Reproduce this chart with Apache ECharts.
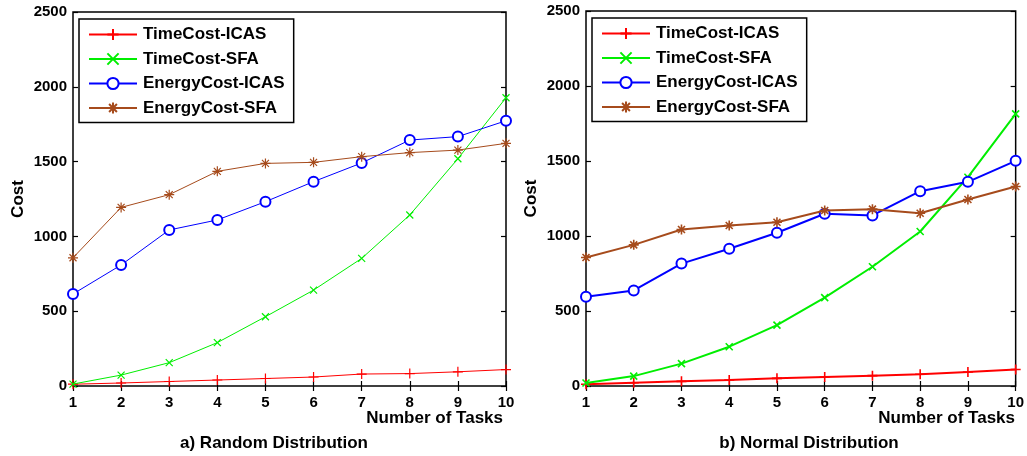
<!DOCTYPE html>
<html>
<head>
<meta charset="utf-8">
<script src="https://cdn.jsdelivr.net/npm/echarts@6/dist/echarts.min.js"></script>
<style>
  html, body { margin: 0; padding: 0; background: #fff; }
  #chart { width: 1027px; height: 456px; }
</style>
</head>
<body>
<div id="chart"></div>
<script>
const tasks = [1, 2, 3, 4, 5, 6, 7, 8, 9, 10];
const seriesNames = ['TimeCost-ICAS', 'TimeCost-SFA', 'EnergyCost-ICAS', 'EnergyCost-SFA'];

// a) Random Distribution
const randTimeICAS = [12, 20, 30, 40, 50, 60, 80, 83, 95, 110];
const randTimeSFA = [13, 73, 156, 290, 463, 641, 853, 1143, 1519, 1927];
const randEnergyICAS = [615, 809, 1043, 1110, 1232, 1366, 1491, 1644, 1667, 1773];
const randEnergySFA = [857, 1194, 1279, 1435, 1488, 1495, 1533, 1560, 1577, 1622];

// b) Normal Distribution
const normTimeICAS = [12, 22, 31, 40, 51, 60, 69, 78, 93, 110];
const normTimeSFA = [20, 66, 149, 262, 406, 589, 795, 1030, 1392, 1814];
const normEnergyICAS = [595, 637, 816, 915, 1022, 1148, 1137, 1299, 1361, 1501];
const normEnergySFA = [857, 941, 1043, 1070, 1092, 1170, 1179, 1152, 1243, 1330];

const yTicks = [0, 500, 1000, 1500, 2000, 2500];

const FONT = 'Arial, "Liberation Sans", sans-serif';
const colors = ['#ff0000', '#00ee00', '#0000ff', '#a64b1c'];
const symbols = [
  'path://M5,0L5,10M0,5L10,5',
  'path://M0,0L10,10M10,0L0,10',
  'emptyCircle',
  'path://M5,0L5,10M0,5L10,5M1.5,1.5L8.5,8.5M8.5,1.5L1.5,8.5'
];
const symbolSizes = [10, 7, 10, 10];

const panels = [
  { data: [randTimeICAS, randTimeSFA, randEnergyICAS, randEnergySFA], left: 73, top: 12, width: 433, height: 374, lw: 1, caption: 'a) Random Distribution', cx: 274 },
  { data: [normTimeICAS, normTimeSFA, normEnergyICAS, normEnergySFA], left: 586, top: 11, width: 431, height: 375, lw: 2, caption: 'b) Normal Distribution', cx: 809 }
];

const grids = [], xAxes = [], yAxes = [], series = [], legends = [], graphics = [];

panels.forEach((p, i) => {
  grids.push({ left: p.left, top: p.top, width: p.width, height: p.height,
    show: true, borderColor: '#000', borderWidth: 1.5, backgroundColor: '#fff' });
  const tick = { show: true, inside: true, length: 5, lineStyle: { color: '#000', width: 1.2 } };
  const label = { color: '#000', fontFamily: FONT, fontWeight: 'bold', fontSize: 15, formatter: v => String(v) };
  xAxes.push({ gridIndex: i, type: 'value', min: 1, max: 10, interval: 1, position: 'bottom',
    axisLine: { show: false }, axisTick: tick, splitLine: { show: false },
    axisLabel: Object.assign({ margin: 9 }, label) });
  xAxes.push({ gridIndex: i, type: 'value', min: 1, max: 10, interval: 1, position: 'top',
    axisLine: { show: false }, axisTick: tick, splitLine: { show: false }, axisLabel: { show: false } });
  yAxes.push({ gridIndex: i, type: 'value', min: yTicks[0], max: yTicks[yTicks.length - 1], interval: 500, position: 'left',
    axisLine: { show: false }, axisTick: tick, splitLine: { show: false },
    axisLabel: Object.assign({ margin: 6 }, label),
    name: 'Cost', nameLocation: 'middle', nameGap: 46,
    nameTextStyle: { color: '#000', fontFamily: FONT, fontWeight: 'bold', fontSize: 17 } });
  yAxes.push({ gridIndex: i, type: 'value', min: yTicks[0], max: yTicks[yTicks.length - 1], interval: 500, position: 'right',
    axisLine: { show: false }, axisTick: tick, splitLine: { show: false }, axisLabel: { show: false } });

  p.data.forEach((vals, k) => {
    series.push({
      name: seriesNames[k], type: 'line', xAxisIndex: i * 2, yAxisIndex: i * 2,
      data: tasks.map((t, j) => [t, vals[j]]),
      symbol: symbols[k], symbolSize: symbolSizes[k], showAllSymbol: true,
      lineStyle: { color: colors[k], width: p.lw },
      itemStyle: { color: colors[k], borderColor: colors[k], borderWidth: p.lw === 1 ? 1.2 : 1.6 },
      z: 2 + k, animation: false
    });
  });

  legends.push({
    data: seriesNames, orient: 'vertical', left: p.left + 6, top: p.top + 7,
    backgroundColor: '#fff', borderColor: '#000', borderWidth: 1.5,
    padding: [7, 9, 6, 9], itemGap: 7.5, itemWidth: 48, itemHeight: 14,
    selectedMode: false, inactiveColor: '#000',
    textStyle: { color: '#000', fontFamily: FONT, fontWeight: 'bold', fontSize: 17, padding: [0, 0, 0, 1] },
    lineStyle: { width: 2 }
  });

  graphics.push({ type: 'text', right: i === 0 ? 1027 - 503 : 1027 - 1015, top: 410,
    style: { text: 'Number of Tasks', fill: '#000', font: 'bold 17px ' + FONT } });
  graphics.push({ type: 'text', x: p.cx, y: 435,
    style: { text: p.caption, fill: '#000', font: 'bold 17px ' + FONT, align: 'center' } });
});

const chart = echarts.init(document.getElementById('chart'), null, { renderer: 'canvas' });
chart.setOption({
  animation: false,
  backgroundColor: '#fff',
  grid: grids, xAxis: xAxes, yAxis: yAxes, series: series, legend: legends, graphic: graphics
});
</script>
</body>
</html>
